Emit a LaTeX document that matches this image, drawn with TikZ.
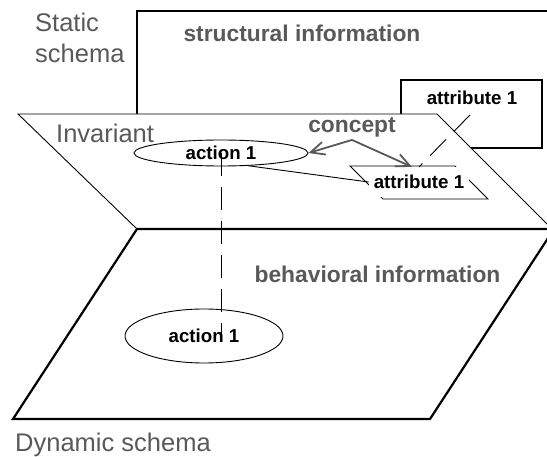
\documentclass[tikz,border=0pt]{standalone}
\usepackage{fontspec}
\setmainfont{Liberation Sans}
\usepackage{tikz}
\usetikzlibrary{shapes.geometric,arrows.meta}
\definecolor{labgrey}{RGB}{89,89,89}

\begin{document}
\begin{tikzpicture}[x=1pt,y=-1pt, every node/.style={inner sep=0pt},
  heavy/.style={draw,line width=2.2pt,line join=miter},
  plane/.style={draw,fill=white,line width=0.9pt},
  schemalbl/.style={text=labgrey,font=\fontsize{25.5}{31}\selectfont,align=left},
  infolbl/.style={text=labgrey,font=\fontsize{22.8}{27}\selectfont\bfseries},
  act/.style={draw,ellipse,fill=white,line width=0.9pt,
              font=\fontsize{18.7}{22}\selectfont\bfseries},
  attr/.style={font=\fontsize{18.7}{22}\selectfont\bfseries},
  dsh/.style={dash pattern=on 23pt off 11pt,line width=0.9pt},
  ar/.style={-{Straight Barb[length=14pt,width=13pt]},labgrey,line width=1.8pt}]
\useasboundingbox (0,0) rectangle (547,457);
\clip (0,0) rectangle (547,457);

% static schema
\path[heavy] (137,120) -- (137,11) -- (560,11);
\node[infolbl,anchor=base] (struct) at (302,42) {structural information};
\node[draw,line width=1.5pt,minimum width=141pt,minimum height=68pt] (attrbox) at (471.5,114) {};
\node[attr,anchor=base] (attrS) at (472,105) {attribute 1};
\node[schemalbl,anchor=north west] (static) at (35,13) {Static\\schema};

% invariant and dynamic planes
\path[plane] (18,114) -- (437,114) -- (552,229) -- (137,229) -- cycle;
\path[heavy,fill=white] (137,229) -- (554,229) -- (430,419) -- (13,419) -- cycle;
\node[schemalbl,anchor=base west] (inv) at (56,143) {Invariant};
\node[schemalbl,anchor=base west] (dyn) at (15,452) {Dynamic schema};
\node[infolbl,anchor=base] (behav) at (377.5,283) {behavioral information};

\node[act,minimum width=174pt,minimum height=26pt] (act1) at (221,153) {action 1};
\node[act,minimum width=158pt,minimum height=54pt] (act2) at (204,336) {action 1};
\draw[dsh] (act1.center) -- ([yshift=-3pt]act1.center |- act2.center);

\path[draw,line width=0.9pt] (350,166) -- (455,166) -- (488,199) -- (383,199) -- cycle;
\node[attr,fill=white,inner xsep=5pt,inner ysep=8pt] (attrD) at (419,182) {attribute 1};
\draw[line width=0.9pt] (act1.-25) -- (attrD.west);

\coordinate (proj) at (470,115);
\draw[dsh] (proj) -- (attrD.north);

\node[infolbl,anchor=base,inner sep=2pt] (concept) at (352,133) {concept};
\draw[ar] (concept.south) -- (act1.east);
\draw[ar] (concept.south) -- ([xshift=-7pt]attrD.north);
\end{tikzpicture}
\end{document}
